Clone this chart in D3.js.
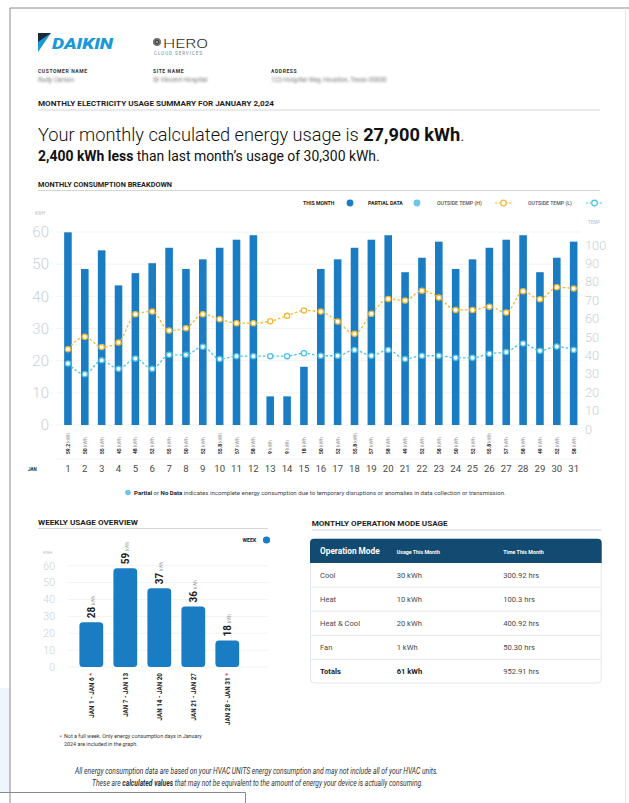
<!DOCTYPE html>
<html>
<head>
<meta charset="utf-8">
<script src="https://cdn.jsdelivr.net/npm/d3@7"></script>
<style>
  body { margin: 0; background: #fff; }
  svg { display: block; font-family: Roboto, "Noto Sans", sans-serif; }
</style>
</head>
<body>
<svg id="page" width="629" height="803"></svg>
<script>
// daily data
const days = ["1","2","3","4","5","6","7","8","9","10","11","12","13","14","15","16",
  "17","18","19","20","21","22","23","24","25","26","27","28","29","30","31"];
const dailyKwh = [59.9, 48.5, 54.3, 43.4, 47.2, 50.3, 55.1, 48.5, 51.5, 55.1, 57.6, 59.0, 8.9, 8.9, 18.1, 48.5,
  51.5, 55.1, 57.6, 59.0, 47.5, 52.0, 57.0, 48.5, 51.5, 55.1, 57.6, 59.0, 47.5, 52.0, 57.0];
const dailyLabels = ["59.2","50","55","45","48","52","55","50","52","55.8","57","58","9","9","18","50",
  "52","55.8","57","58","49","52","58","50","52","55.8","57","58","49","52","58"];
const tempHigh = [43.4, 50.1, 44.5, 47.0, 62.4, 63.8, 53.5, 54.8, 62.4, 59.7, 57.5, 57.5, 58.6, 61.5, 64.4, 63.8,
  58.4, 51.7, 62.6, 70.7, 69.8, 75.2, 71.4, 64.7, 64.7, 66.5, 63.3, 74.9, 70.5, 77.0, 76.3];
const tempLow = [35.6, 29.8, 37.3, 32.7, 38.3, 32.7, 40.3, 40.3, 44.7, 38.0, 39.6, 39.6, 39.6, 39.6, 41.2, 39.8,
  39.8, 43.0, 39.8, 43.0, 38.0, 39.8, 39.8, 38.7, 38.7, 40.9, 41.8, 46.5, 42.5, 44.8, 43.0];
const kwhTicks = [0, 10, 20, 30, 40, 50, 60];
const tempTicks = [0, 10, 20, 30, 40, 50, 60, 70, 80, 90, 100];

// weekly data
const weeks = ["JAN 1 - JAN 6", "JAN 7 - JAN 13", "JAN 14 - JAN 20", "JAN 21 - JAN 27", "JAN 28 - JAN 31"];
const weekKwh = [26.5, 58.5, 46.7, 35.9, 15.7];
const weekLabels = ["28", "59", "37", "36", "18"];
const weekPartial = [true, false, false, false, true];

// operation mode table
const modes = ["Cool", "Heat", "Heat & Cool", "Fan"];
const modeUsage = ["30 kWh", "10 kWh", "20 kWh", "1 kWh"];
const modeTime = ["300.92 hrs", "100.3 hrs", "400.92 hrs", "50.30 hrs"];
const totals = ["Totals", "61 kWh", "952.91 hrs"];

const BLUE = "#1a7cc2", LIGHT = "#6cc4ef", ORANGE = "#f4b731", CYAN = "#4cc2e6";
const AXIS = "#c9d1d9", DARK = "#1d1d1d";

const svg = d3.select("#page");

// shrink a multi-span text's font size until it spans the wanted width
function fitWidth(sel, target) {
  const fs = +sel.attr("font-size");
  const len = sel.node().getComputedTextLength();
  sel.attr("font-size", (fs * target / len).toFixed(2));
}
// squeeze a text horizontally (keeps its height) around its x
function squeeze(sel, target) {
  const len = sel.node().getComputedTextLength();
  const x0 = +sel.attr("x"), k = target / len;
  sel.attr("transform", `translate(${x0},0) scale(${k.toFixed(3)},1) translate(${-x0},0)`);
}

// page frame
svg.append("rect").attr("x", 0).attr("y", 688).attr("width", 10).attr("height", 104).attr("fill", "#eef5fc");
svg.append("path").attr("d", "M10,803V8H629").attr("fill", "none").attr("stroke", "#8a8a8a").attr("stroke-width", 1);
svg.append("line").attr("x1", 625.5).attr("x2", 625.5).attr("y1", 8).attr("y2", 803).attr("stroke", "#e6e6e6");
svg.append("path").attr("d", "M0,792.5H245.5V803").attr("fill", "none").attr("stroke", "#8a8a8a");

// ---------- header ----------
svg.append("polygon").attr("points", "38,33 51,33 38,52").attr("fill", "#1b9ad7");
svg.append("polygon").attr("points", "38,33 51,33 38,42").attr("fill", "#1a2a3a");
svg.append("text").attr("x", 52).attr("y", 49).attr("font-size", 15).attr("font-weight", 900)
  .attr("font-style", "italic").attr("fill", "#1b9ad7").attr("textLength", 61)
  .attr("lengthAdjust", "spacingAndGlyphs").text("DAIKIN");

const hero = svg.append("g").attr("transform", "translate(157,42)");
[0, 30, 60, 90, 120, 150].forEach(a => {
  hero.append("ellipse").attr("rx", 1.3).attr("ry", 4).attr("fill", "none")
    .attr("stroke", "#3a3a3a").attr("stroke-width", 0.6).attr("transform", `rotate(${a})`);
});
svg.append("text").attr("x", 163).attr("y", 47.5).attr("font-size", 13.5).attr("font-weight", 300)
  .attr("fill", "#2b2b2b").attr("textLength", 45).attr("lengthAdjust", "spacingAndGlyphs").text("HERO");
svg.append("text").attr("x", 154).attr("y", 54.5).attr("font-size", 4.6).attr("fill", "#6d8aa3")
  .attr("letter-spacing", 0.9).text("CLOUD SERVICES");

const blur = svg.append("defs").append("filter").attr("id", "blur");
blur.append("feGaussianBlur").attr("stdDeviation", 0.8);

[["CUSTOMER NAME", "Rudy Carson", 38], ["SITE NAME", "St Vincent Hospital", 153],
 ["ADDRESS", "123 Hospital Way, Houston, Texas 00000", 271]].forEach(([k, v, x]) => {
  svg.append("text").attr("x", x).attr("y", 73).attr("font-size", 5).attr("font-weight", 700)
    .attr("letter-spacing", 0.6).attr("fill", "#333").text(k);
  svg.append("text").attr("x", x).attr("y", 82).attr("font-size", 6.4).attr("fill", "#7a7a7a")
    .attr("filter", "url(#blur)").text(v);
});

function sectionTitle(txt, x, y, w, lineEnd) {
  svg.append("text").attr("x", x).attr("y", y).attr("font-size", 7.3).attr("font-weight", 700)
    .attr("fill", DARK).attr("textLength", w).attr("lengthAdjust", "spacingAndGlyphs").text(txt);
  svg.append("line").attr("x1", x).attr("x2", lineEnd).attr("y1", y + 4).attr("y2", y + 4)
    .attr("stroke", "#d6d6d6").attr("stroke-width", 1);
}
sectionTitle("MONTHLY ELECTRICITY USAGE SUMMARY FOR JANUARY 2,024", 38, 106, 236, 600);

const h1 = svg.append("text").attr("x", 38).attr("y", 140.5).attr("font-size", 19.5).attr("fill", "#111");
h1.append("tspan").attr("font-weight", 300).text("Your monthly calculated energy usage is ");
h1.append("tspan").attr("font-weight", 700).text("27,900 kWh");
h1.append("tspan").attr("font-weight", 300).text(".");
fitWidth(h1, 427);

const h2 = svg.append("text").attr("x", 38).attr("y", 161).attr("font-size", 12.3).attr("fill", "#111");
h2.append("tspan").attr("font-weight", 700).text("2,400 kWh less");
h2.append("tspan").attr("font-weight", 400).text(" than last month\u2019s usage of 30,300 kWh.");
fitWidth(h2, 342);

// ---------- monthly chart ----------
sectionTitle("MONTHLY CONSUMPTION BREAKDOWN", 38, 186.5, 134, 600);

const x = d3.scaleBand().domain(days).range([59.6, 582]).paddingInner(0.55).paddingOuter(0.27);
const y = d3.scaleLinear().domain([0, 60]).range([425, 232]);
const yT = d3.scaleLinear().domain([0, 100]).range([429, 245]);

const chart = svg.append("g");

chart.append("g").selectAll("line").data(kwhTicks).join("line")
  .attr("x1", 56).attr("x2", 580).attr("y1", d => y(d)).attr("y2", d => y(d))
  .attr("stroke", "#f2f3f5").attr("stroke-width", 1);
chart.append("line").attr("x1", 56).attr("x2", 580).attr("y1", 459).attr("y2", 459).attr("stroke", "#f2f3f5");

const yAxis = chart.append("g").attr("transform", "translate(49,0)")
  .call(d3.axisLeft(y).tickValues(kwhTicks).tickSize(0).tickPadding(0));
yAxis.select(".domain").remove();
yAxis.selectAll("text").attr("font-size", 15).attr("font-weight", 300).attr("fill", AXIS)
  .attr("font-family", "Roboto");

const tAxis = chart.append("g").attr("transform", "translate(585,0)")
  .call(d3.axisRight(yT).tickValues(tempTicks).tickSize(0).tickPadding(0));
tAxis.select(".domain").remove();
tAxis.selectAll("text").attr("font-size", 12.8).attr("font-weight", 300).attr("fill", AXIS)
  .attr("font-family", "Roboto");

chart.append("text").attr("x", 35).attr("y", 215).attr("font-size", 4.5).attr("fill", "#b5bec7").text("KWH");
chart.append("text").attr("x", 588).attr("y", 224).attr("font-size", 4.5).attr("fill", "#b5bec7").text("TEMP");

chart.append("g").selectAll("rect").data(dailyKwh).join("rect")
  .attr("x", (d, i) => x(days[i])).attr("width", x.bandwidth())
  .attr("y", d => y(d)).attr("height", d => y(0) - y(d)).attr("fill", BLUE);

function tempLine(vals, color) {
  const line = d3.line().x((d, i) => x(days[i]) + x.bandwidth() / 2).y(d => yT(d)).curve(d3.curveMonotoneX);
  chart.append("path").datum(vals).attr("d", line).attr("fill", "none").attr("stroke", color)
    .attr("stroke-width", 1.3).attr("stroke-dasharray", "2.5,2");
  chart.append("g").selectAll("circle").data(vals).join("circle")
    .attr("cx", (d, i) => x(days[i]) + x.bandwidth() / 2).attr("cy", d => yT(d)).attr("r", 2.6)
    .attr("fill", "#fff").attr("stroke", color).attr("stroke-width", 1.3);
}
tempLine(tempHigh, ORANGE);
tempLine(tempLow, CYAN);

// value labels under bars
chart.append("g").selectAll("text").data(dailyLabels).join("text")
  .attr("transform", (d, i) => `translate(${x(days[i]) + x.bandwidth() / 2 + 2},454) rotate(-90)`)
  .attr("font-size", 5).each(function(d) {
    const t = d3.select(this);
    t.append("tspan").attr("font-weight", 700).attr("fill", "#222").text(d);
    t.append("tspan").attr("fill", "#999").text(" kWh");
  });

chart.append("g").selectAll("text").data(days).join("text")
  .attr("x", d => x(d) + x.bandwidth() / 2).attr("y", 472).attr("text-anchor", "middle")
  .attr("font-size", 9.6).attr("fill", "#4a4a4a").text(d => d);
chart.append("text").attr("x", 28).attr("y", 471).attr("font-size", 4.5).attr("font-weight", 700)
  .attr("fill", "#222").text("JAN");

// legend
const legend = svg.append("g").attr("font-size", 5.2);
legend.append("text").attr("x", 303).attr("y", 205).attr("font-weight", 700).attr("fill", "#222").text("THIS MONTH");
legend.append("circle").attr("cx", 350).attr("cy", 203).attr("r", 3.4).attr("fill", BLUE);
legend.append("text").attr("x", 368).attr("y", 205).attr("font-weight", 700).attr("fill", "#222").text("PARTIAL DATA");
legend.append("circle").attr("cx", 417).attr("cy", 203).attr("r", 3.4).attr("fill", LIGHT);
[["OUTSIDE TEMP (H)", 437, ORANGE], ["OUTSIDE TEMP (L)", 528, CYAN]].forEach(([t, lx, c]) => {
  legend.append("text").attr("x", lx).attr("y", 205).attr("font-weight", 500).attr("fill", "#555").text(t);
  legend.append("line").attr("x1", lx + 58).attr("x2", lx + 75).attr("y1", 203).attr("y2", 203)
    .attr("stroke", c).attr("stroke-width", 1.2).attr("stroke-dasharray", "2,1.5");
  legend.append("circle").attr("cx", lx + 66.5).attr("cy", 203).attr("r", 2.8).attr("fill", "#fff")
    .attr("stroke", c).attr("stroke-width", 1.2);
});

svg.append("circle").attr("cx", 128).attr("cy", 492.5).attr("r", 2.8).attr("fill", LIGHT);
const note = svg.append("text").attr("x", 134).attr("y", 494.5).attr("font-size", 5.6).attr("fill", "#444");
note.append("tspan").attr("font-weight", 700).attr("fill", "#222").text("Partial");
note.append("tspan").text(" or ");
note.append("tspan").attr("font-weight", 700).attr("fill", "#222").text("No Data");
note.append("tspan").text(" indicates incomplete energy consumption due to temporary disruptions or anomalies in data collection or transmission.");
fitWidth(note, 372);

// ---------- weekly chart ----------
sectionTitle("WEEKLY USAGE OVERVIEW", 38, 524.5, 100, 268);

const xw = d3.scaleBand().domain(weeks).range([74.3, 244.3]).padding(0.3).paddingOuter(0.15);
const yw = d3.scaleLinear().domain([0, 60]).range([667, 565.7]);
const wk = svg.append("g");
const x0w = i => xw(weeks[i]);

wk.append("g").selectAll("line").data(kwhTicks).join("line")
  .attr("x1", 68).attr("x2", 268).attr("y1", d => yw(d)).attr("y2", d => yw(d))
  .attr("stroke", "#f2f3f5");
const wAxis = wk.append("g").attr("transform", "translate(55,0)")
  .call(d3.axisLeft(yw).tickValues(kwhTicks).tickSize(0).tickPadding(0));
wAxis.select(".domain").remove();
wAxis.selectAll("text").attr("font-size", 10.5).attr("font-weight", 300).attr("fill", AXIS)
  .attr("font-family", "Roboto");
wk.append("text").attr("x", 43).attr("y", 554).attr("font-size", 4.2).attr("fill", "#b5bec7").text("KWH");

wk.append("g").selectAll("path").data(weekKwh).join("path")
  .attr("d", (d, i) => {
    const x0 = x0w(i), x1 = x0 + xw.bandwidth(), y0 = yw(d), yb = yw(0), r = 3.5;
    return `M${x0},${yb - r}V${y0 + r}Q${x0},${y0} ${x0 + r},${y0}H${x1 - r}Q${x1},${y0} ${x1},${y0 + r}V${yb - r}Q${x1},${yb} ${x1 - r},${yb}H${x0 + r}Q${x0},${yb} ${x0},${yb - r}Z`;
  })
  .attr("fill", BLUE);

wk.append("g").selectAll("text").data(weekLabels).join("text")
  .attr("transform", (d, i) => `translate(${x0w(i) + xw.bandwidth() / 2 + 3.5},${yw(weekKwh[i]) - 4}) rotate(-90)`)
  .each(function(d) {
    const t = d3.select(this);
    t.append("tspan").attr("font-size", 10).attr("font-weight", 700).attr("fill", "#222").text(d);
    t.append("tspan").attr("font-size", 4.5).attr("fill", "#999").attr("dx", 2).text("kWh");
  });

wk.append("g").selectAll("text").data(weeks).join("text")
  .attr("transform", (d, i) => `translate(${x0w(i) + xw.bandwidth() / 2 + 2.3},673) rotate(-90)`)
  .attr("text-anchor", "end").attr("font-size", 6.3).attr("font-weight", 700).attr("fill", "#222")
  .each(function(d, i) {
    const t = d3.select(this);
    t.append("tspan").text(d);
    if (weekPartial[i]) t.append("tspan").attr("fill", "#e0413a").text(" *");
  });

wk.append("text").attr("x", 242.5).attr("y", 542).attr("font-size", 5.2).attr("font-weight", 700)
  .attr("fill", "#222").text("WEEK");
wk.append("circle").attr("cx", 266.5).attr("cy", 540).attr("r", 3.6).attr("fill", BLUE);

wk.append("text").attr("x", 59.5).attr("y", 739).attr("font-size", 6).attr("fill", "#e0413a").text("*");
wk.append("text").attr("x", 64).attr("y", 738).attr("font-size", 5.4).attr("fill", "#333")
  .text("Not a full  week. Only energy consumption days in January");
wk.append("text").attr("x", 64).attr("y", 745.5).attr("font-size", 5.4).attr("fill", "#333")
  .text("2024 are included in the graph.");

// ---------- operation mode table ----------
sectionTitle("MONTHLY OPERATION MODE USAGE", 311.7, 526, 136, 601.7);

const tx = 310, tw = 291.7, ty = 538.7, headH = 24.3, rowH = 24.1;
const colX = [320, 396.7, 503.3];
const tbl = svg.append("g");
tbl.append("rect").attr("x", tx + 0.5).attr("y", ty + 0.5).attr("width", tw - 1).attr("height", headH + rowH * 5 - 1)
  .attr("rx", 4).attr("fill", "#fff").attr("stroke", "#e1e7ee");
tbl.append("path")
  .attr("d", `M${tx},${ty + headH}V${ty + 4}Q${tx},${ty} ${tx + 4},${ty}H${tx + tw - 4}Q${tx + tw},${ty} ${tx + tw},${ty + 4}V${ty + headH}Z`)
  .attr("fill", "#134a72");
tbl.append("text").attr("x", colX[0]).attr("y", ty + 15.3).attr("font-size", 8.3).attr("font-weight", 700)
  .attr("fill", "#fff").text("Operation Mode");
tbl.append("text").attr("x", colX[1]).attr("y", ty + 14.8).attr("font-size", 5.3).attr("font-weight", 700)
  .attr("fill", "#fff").text("Usage This Month");
tbl.append("text").attr("x", colX[2]).attr("y", ty + 14.8).attr("font-size", 5.3).attr("font-weight", 700)
  .attr("fill", "#fff").text("Time This Month");

const rows = modes.map((m, i) => [m, modeUsage[i], modeTime[i]]).concat([totals]);
rows.forEach((r, i) => {
  const ry = ty + headH + rowH * i;
  if (i > 0) tbl.append("line").attr("x1", tx + 1).attr("x2", tx + tw - 1).attr("y1", ry).attr("y2", ry)
    .attr("stroke", "#e3e9ef");
  r.forEach((c, j) => {
    tbl.append("text").attr("x", colX[j]).attr("y", ry + 15).attr("font-size", 7.6)
      .attr("font-weight", i === 4 && j < 2 ? 700 : 400)
      .attr("fill", i === 4 && j < 2 ? "#222" : "#4a4a4a").text(c);
  });
});

// ---------- footer ----------
svg.append("text").attr("x", 256.5).attr("y", 773.5).attr("text-anchor", "middle").attr("font-size", 8.2)
  .attr("font-style", "italic").attr("fill", "#333").attr("textLength", 363)
  .attr("lengthAdjust", "spacingAndGlyphs")
  .text("All energy consumption data are based on your HVAC UNITS energy consumption and may not include all of your HVAC units.");
const f2 = svg.append("text").attr("x", 257.5).attr("y", 786.5).attr("text-anchor", "middle").attr("font-size", 8.2)
  .attr("font-style", "italic").attr("fill", "#333");
f2.append("tspan").text("These are ");
f2.append("tspan").attr("font-weight", 700).text("calculated values");
f2.append("tspan").text(" that may not be equivalent to the amount of energy your device is actually consuming.");
squeeze(f2, 331);
</script>
</body>
</html>
